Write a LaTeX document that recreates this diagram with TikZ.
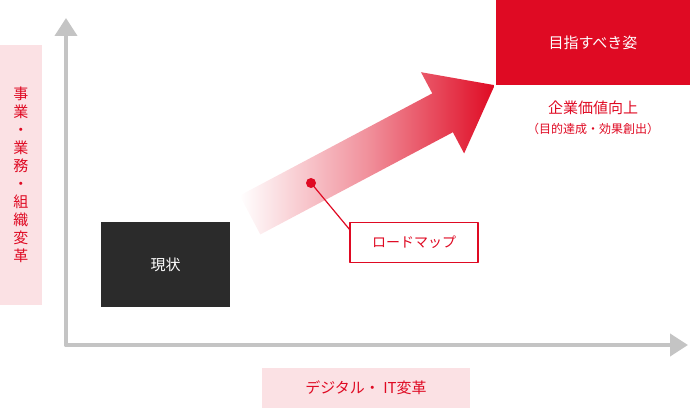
\documentclass[tikz,border=0pt]{standalone}
\usepackage{fontspec}
\setmainfont{Noto Sans CJK JP}
\usetikzlibrary{positioning}
\definecolor{brandred}{HTML}{DF0A23}
\definecolor{palepink}{HTML}{FBE1E4}
\definecolor{axisgray}{HTML}{C4C4C4}
\tikzset{
  axisline/.style={axisgray,line width=4pt,-{Triangle[length=18pt,width=22pt]}},
  tagbox/.style={fill=palepink,text=brandred,font=\fontsize{15}{18}\selectfont},
}
\usetikzlibrary{arrows.meta}
\begin{document}
\begin{tikzpicture}[x=1pt,y=1pt,line cap=round,line join=round]
  \useasboundingbox (0,0) rectangle (690,410);
  % axes
  \coordinate (O) at (66,65);
  \coordinate (Ytop) at (66,392);
  \coordinate (Xend) at (688,65);
  \draw[axisline] (O)--(Ytop);
  \draw[axisline] (O)--(Xend);
  % axis labels
  \node[tagbox,minimum width=42pt,minimum height=260pt,align=center,text width=18pt,inner sep=0pt] (vert) at (21,235)
    {事\\業\\・\\業\\務\\・\\組\\織\\変\\革};
  \node[tagbox,minimum width=208pt,minimum height=40pt] (horiz) at (366,22) {デジタル・ IT変革};
  % roadmap arrow
  \begin{scope}[shift={(250,195)},rotate=27.95]
    \shade[left color=white,right color=brandred,middle color=brandred!45]
      (0,-22)--(218,-22)--(218,-46)--(277,0)--(218,46)--(218,22)--(0,22)--cycle;
  \end{scope}
  % boxes
  \node[fill=black!83,text=white,minimum width=129pt,minimum height=85pt,font=\fontsize{15}{18}\selectfont] (now) at (165.5,145.5) {現状};
  \node[fill=brandred,text=white,minimum width=194pt,minimum height=85pt,font=\fontsize{15}{18}\selectfont] (goal) at (593,367.5) {目指すべき姿};
  \node[text=brandred,font=\fontsize{15}{18}\selectfont,below=12pt of goal.south,anchor=north] (value) {企業価値向上};
  \node[text=brandred,font=\fontsize{12}{14}\selectfont,below=2pt of value] (valuesub) {（目的達成・効果創出）};
  % roadmap callout
  \fill[brandred] (311,227) circle (5pt) coordinate (dot);
  \node[draw=brandred,line width=1.2pt,fill=white,text=brandred,minimum width=128pt,minimum height=40pt,font=\fontsize{14}{17}\selectfont] (road) at (414,167.5) {ロードマップ};
  \draw[brandred,line width=1.2pt] (dot)--(350,180)--(road.west |- 0,180);
\end{tikzpicture}
\end{document}
